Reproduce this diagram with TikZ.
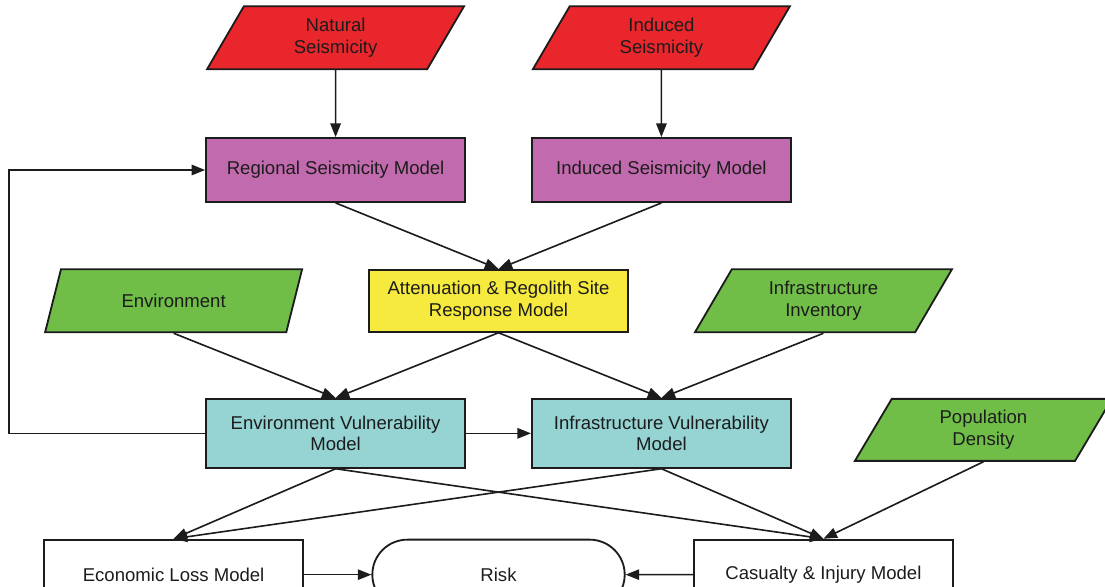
\documentclass[tikz,border=0pt]{standalone}
\usepackage{fontspec}
\setmainfont{Liberation Sans}
\usetikzlibrary{positioning,calc,shapes.geometric,shapes.misc,arrows.meta}

\definecolor{hazardred}{RGB}{232,38,44}
\definecolor{modelpink}{RGB}{194,106,174}
\definecolor{siteyellow}{RGB}{246,234,62}
\definecolor{inputgreen}{RGB}{112,190,72}
\definecolor{vulncyan}{RGB}{150,211,211}
\definecolor{ink}{RGB}{28,28,28}

\begin{document}
\begin{tikzpicture}[
  >={Triangle[length=3.4mm, width=2.6mm]},
  font=\fontsize{13.2}{15.5}\selectfont,
  every node/.style={text=ink},
  link/.style={->, draw=ink, line width=1.15pt},
  model/.style={draw=ink, line width=1.3pt, minimum width=6.475cm, minimum height=1.6cm, align=center, inner sep=2pt},
  vuln/.style={model, fill=vulncyan, minimum height=1.725cm},
  outcome/.style={model, fill=white, minimum height=1.75cm},
  source/.style={draw=ink, line width=1.3pt, trapezium, trapezium left angle=50.5, trapezium right angle=129.5,
    trapezium stretches body, minimum width=6.425cm, minimum height=1.575cm, align=center, inner sep=2pt},
  hazard/.style={source, fill=hazardred},
  input/.style={source, fill=inputgreen}
]
\useasboundingbox (0,0) rectangle (27.625,14.65);

% hazard models and their sources
\node[model, fill=modelpink] (reg) at (8.39,10.4) {Regional Seismicity Model};
\node[model, fill=modelpink, right=1.625cm of reg] (indm) {Induced Seismicity Model};
\node[hazard, above=1.675cm of reg]  (nat) {Natural\\Seismicity};
\node[hazard, above=1.675cm of indm] (ind) {Induced\\Seismicity};

\node[model, fill=siteyellow, minimum height=1.55cm, below=1.65cm of $(reg.south)!0.5!(indm.south)$] (att)
  {Attenuation \& Regolith Site\\Response Model};

% exposure inputs
\node[input, xshift=-4.05cm] (env) at (att -| reg) {Environment};
\node[input, xshift=4.05cm]  (inv) at (att -| indm) {Infrastructure\\Inventory};

\node[vuln, below=4.875cm of reg]  (envv) {Environment Vulnerability\\Model};
\node[vuln, below=4.875cm of indm] (infv) {Infrastructure Vulnerability\\Model};
\node[input, minimum height=1.55cm, anchor=north, xshift=8.05cm] (pop) at (infv.north) {Population\\Density};

% losses and risk
\node[outcome, below=1.75cm of envv, xshift=-4.05cm] (eco) {Economic Loss Model};
\node[outcome, below=1.75cm of infv, xshift=4.05cm]  (cas) {Casualty \& Injury Model};
\node[outcome, rounded rectangle, minimum width=6.45cm] (risk) at (eco -| att) {Risk};

\draw[link] (nat) -- (reg);
\draw[link] (ind) -- (indm);
\foreach \n in {reg,indm}
  \draw[link] (\n.south) -- (att.north);
\foreach \n in {env,att}
  \draw[link] (\n.south) -- (envv.north);
\foreach \n in {att,inv}
  \draw[link] (\n.south) -- (infv.north);
\draw[link] (envv) -- (infv);
\draw[link] (envv.west) -| ([xshift=-4.9cm]reg.west) -- (reg.west);

\foreach \n in {envv,infv}{
  \draw[link] (\n.south) -- (eco.north);
  \draw[link] (\n.south) -- (cas.north);
}
\draw[link] (pop.south) -- (cas.north);
\draw[link] (eco) -- (risk);
\draw[link] (cas) -- (risk);

\end{tikzpicture}
\end{document}
